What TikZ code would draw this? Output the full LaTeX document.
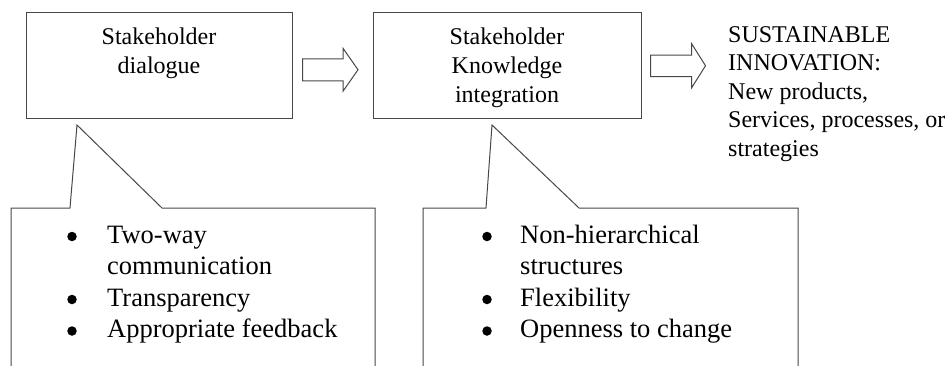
\documentclass[tikz,border=0pt]{standalone}
\usepackage{fontspec}
\setmainfont{Liberation Serif}
\begin{document}
\begin{tikzpicture}[x=1pt,y=-1pt,
  frame/.style={draw=black!72, line width=1pt, line join=miter},
  stagebox/.style={frame, inner sep=0pt, minimum height=105.5pt},
  boxtext/.style={font=\fontsize{24}{29}\selectfont, align=center, anchor=base, inner sep=0pt},
  outtext/.style={font=\fontsize{24}{28.5}\selectfont, align=left, anchor=base west, inner sep=0pt},
  listtext/.style={font=\fontsize{26.5}{31.5}\selectfont, align=left, anchor=base west, inner sep=0pt},
  dot/.style={circle, fill=black, inner sep=0pt, minimum size=9.5pt}]

\useasboundingbox (0,0) rectangle (952,365);

% the two stages
\node[stagebox, minimum width=266pt] (b1) at (159,65.25) {};
\node[stagebox, minimum width=268pt] (b2) at (507,65.25) {};
% multi-line texts are placed by the baseline of their last line
\node[boxtext] (t1) at (159,73) {Stakeholder\\dialogue};
\node[boxtext] (t2) at (507,102) {Stakeholder\\Knowledge\\integration};

% outcome
\node[outtext] (t3) at (728,156) {SUSTAINABLE\\INNOVATION:\\New products,\\Services, processes, or\\strategies};

% block arrows between the stages
\coordinate (a1) at (302.5,69.25);
\draw[frame] (a1) ++(0,-10.5) -- ++(40.5,0) -- ++(0,-10.5) -- ++(15,21.5)
  -- ++(-15,21.5) -- ++(0,-10.5) -- ++(-40.5,0) -- cycle;
\coordinate (a2) at (650.5,65.75);
\draw[frame] (a2) ++(0,-10.75) -- ++(41,0) -- ++(0,-11.5) -- ++(14,22.25)
  -- ++(-14,22.25) -- ++(0,-11.5) -- ++(-41,0) -- cycle;

% callouts pointing up to the stages
\coordinate (p1) at (77,125);
\draw[frame] (11,368) -- (11,208) -- (70,208) -- (p1) -- (162,208) -- (375,208) -- (375,368);
\coordinate (p2) at (492,125);
\draw[frame] (423,368) -- (423,208) -- (486,208) -- (p2) -- (579,208) -- (798,208) -- (798,368);

% callout contents
\node[listtext] (l1) at (107,337.5) {Two-way\\communication\\Transparency\\Appropriate feedback};
\node[dot] (d11) at (72,236.5) {};
\node[dot] (d12) at (72,299.5) {};
\node[dot] (d13) at (72,331) {};

\node[listtext] (l2) at (520,337.5) {Non-hierarchical\\structures\\Flexibility\\Openness to change};
\node[dot] (d21) at (487,236.5) {};
\node[dot] (d22) at (487,299.5) {};
\node[dot] (d23) at (487,331) {};
\end{tikzpicture}
\end{document}
